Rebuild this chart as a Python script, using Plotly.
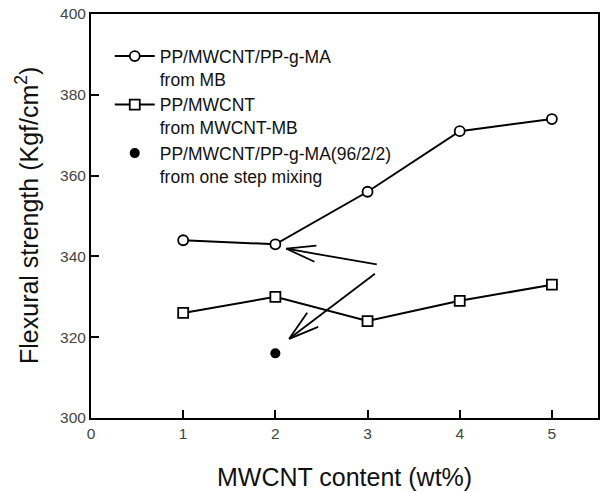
import plotly.graph_objects as go

# ---- data ----
mwcnt_content = [1, 2, 3, 4, 5]
strength_from_mb = [344, 343, 356, 371, 374]
strength_from_mwcnt_mb = [326, 330, 324, 329, 333]
one_step_content = [2]
one_step_strength = [316]

names = [
    "PP/MWCNT/PP-g-MA<br>from MB",
    "PP/MWCNT<br>from MWCNT-MB",
    "PP/MWCNT/PP-g-MA(96/2/2)<br>from one step mixing",
]

x_ticks = [0, 1, 2, 3, 4, 5]
y_ticks = [300, 320, 340, 360, 380, 400]

# arrows: (head_x, head_y, tail_x, tail_y) in data units
arrows = [
    (2.12, 341.9, 3.10, 338.0),
    (2.15, 319.6, 3.08, 335.7),
]
# arrow barbs as pixel offsets from the head (dx right, dy down)
barbs = [
    [(30, -3), (28, 13)],
    [(18, -26), (29, -12)],
]

FONT = "Liberation Sans, Arial, sans-serif"

fig = go.Figure()
fig.add_trace(go.Scatter(
    x=mwcnt_content, y=strength_from_mb, name=names[0], mode="lines+markers",
    line=dict(color="black", width=2),
    marker=dict(symbol="circle", size=10, color="white", line=dict(color="black", width=1.8)),
))
fig.add_trace(go.Scatter(
    x=mwcnt_content, y=strength_from_mwcnt_mb, name=names[1], mode="lines+markers",
    line=dict(color="black", width=2),
    marker=dict(symbol="square", size=10, color="white", line=dict(color="black", width=1.8)),
))
fig.add_trace(go.Scatter(
    x=one_step_content, y=one_step_strength, name=names[2], mode="markers",
    marker=dict(symbol="circle", size=10, color="black"),
))

shapes = []
for (hx, hy, tx, ty), bb in zip(arrows, barbs):
    shapes.append(dict(type="line", xref="x", yref="y", x0=tx, y0=ty, x1=hx, y1=hy,
                       line=dict(color="black", width=1.8)))
    for dx, dy in bb:
        shapes.append(dict(type="line", xref="x", yref="y",
                           xsizemode="pixel", ysizemode="pixel", xanchor=hx, yanchor=hy,
                           x0=0, y0=0, x1=dx, y1=-dy,
                           line=dict(color="black", width=1.8)))

axis_common = dict(
    showline=True, linecolor="black", linewidth=2, mirror=True,
    ticks="inside", ticklen=8, tickwidth=1.5, tickcolor="black",
    showgrid=False, zeroline=False, automargin=False, ticklabeloverflow="allow",
    tickfont=dict(family=FONT, size=15.5, color="#444"),
)

annotations = [
    dict(text="MWCNT content (wt%)", xref="paper", yref="paper", x=0.5, y=0,
         xanchor="center", yanchor="middle", yshift=-59, showarrow=False,
         font=dict(family=FONT, size=25, color="#111")),
    dict(text="Flexural strength (Kgf/cm<sup>2</sup>)", xref="paper", yref="paper", x=0, y=0.5,
         xanchor="center", yanchor="middle", xshift=-64, textangle=-90, showarrow=False,
         font=dict(family=FONT, size=25, color="#111")),
]

fig.update_layout(
    width=606, height=492,
    margin=dict(l=91, r=8, t=14, b=74, autoexpand=False),
    paper_bgcolor="white", plot_bgcolor="white",
    font=dict(family=FONT, color="#111"),
    showlegend=True,
    legend=dict(
        x=0.037, y=0.94, xanchor="left", yanchor="top",
        bgcolor="rgba(0,0,0,0)", font=dict(family=FONT, size=17.5, color="#111"),
        valign="top", tracegroupgap=0, itemwidth=40,
    ),
    xaxis=dict(
        range=[0, 5.5], tickvals=x_ticks, ticktext=[str(v) for v in x_ticks],
        ticklabelstandoff=0, **axis_common,
    ),
    yaxis=dict(
        range=[300, 400], tickvals=y_ticks, ticktext=[str(v) for v in y_ticks],
        ticklabelstandoff=0, **axis_common,
    ),
    shapes=shapes,
    annotations=annotations,
)

# remove the default page margin so the figure fills the window exactly
fig.write_html("out.html", config={"displayModeBar": False},
               post_script="document.body.style.margin='0';")
